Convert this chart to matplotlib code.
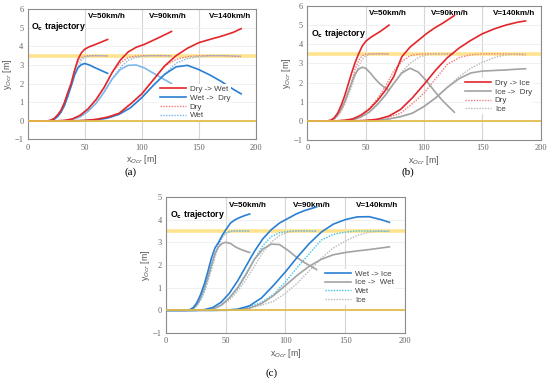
import matplotlib
matplotlib.use("Agg")
import matplotlib.pyplot as plt

# shared x grids for each speed (m)
x50 = [0, 17, 20, 23, 26, 29, 32, 35, 38, 41, 44, 47, 50, 54, 58, 62, 66, 70]
x90 = [0, 25, 32, 39, 46, 53, 60, 67, 74, 81, 88, 95, 102, 109, 116, 126]
x140 = [0, 40, 50, 60, 70, 80, 90, 100, 110, 120, 130, 140, 150, 160, 170, 180, 187]

# ---- reference (single-surface) trajectories
dry50 = [0, 0, 0.03, 0.12, 0.3, 0.55, 0.95, 1.5, 2.0, 2.7, 3.15, 3.4, 3.48, 3.5, 3.5, 3.5, 3.49, 3.48]
wet50 = [0, 0, 0, 0.07, 0.22, 0.45, 0.8, 1.3, 1.85, 2.45, 2.9, 3.25, 3.42, 3.48, 3.5, 3.5, 3.5, 3.49]
ice50 = [0, 0, 0, 0.08, 0.25, 0.5, 0.85, 1.3, 1.8, 2.35, 2.85, 3.2, 3.4, 3.48, 3.5, 3.5, 3.5, 3.5]
dry90 = [0, 0, 0.02, 0.1, 0.3, 0.65, 1.15, 1.8, 2.6, 3.1, 3.4, 3.48, 3.5, 3.5, 3.5, 3.49]
wet90 = [0, 0, 0.01, 0.07, 0.22, 0.52, 0.95, 1.55, 2.25, 2.85, 3.25, 3.42, 3.48, 3.5, 3.5, 3.49]
ice90 = [0, 0, 0.01, 0.05, 0.2, 0.45, 0.85, 1.35, 1.95, 2.55, 3.0, 3.3, 3.45, 3.5, 3.5, 3.5]
dry140 = [0, 0, 0.02, 0.08, 0.2, 0.4, 0.9, 1.45, 2.2, 2.95, 3.3, 3.45, 3.5, 3.5, 3.5, 3.47, 3.45]
wet140 = [0, 0, 0.01, 0.05, 0.15, 0.35, 0.7, 1.25, 1.9, 2.5, 3.1, 3.35, 3.45, 3.5, 3.5, 3.49, 3.48]
ice140 = [0, 0, 0, 0.03, 0.1, 0.22, 0.4, 0.75, 1.2, 1.75, 2.3, 2.75, 3.05, 3.3, 3.45, 3.5, 3.5]

# ---- panel (a): dry -> wet / wet -> dry
a_dw50 = [0, 0, 0.03, 0.12, 0.3, 0.55, 0.95, 1.5, 2.0, 2.7, 3.3, 3.65, 3.85, 3.98, 4.07, 4.17, 4.27, 4.37]
a_wd50 = [0, 0, 0, 0.07, 0.22, 0.45, 0.8, 1.3, 1.85, 2.45, 2.85, 3.02, 3.08, 3.0, 2.88, 2.77, 2.66, 2.55]
a_dw90 = [0, 0, 0.02, 0.1, 0.3, 0.65, 1.15, 1.8, 2.6, 3.25, 3.7, 3.95, 4.1, 4.3, 4.5, 4.8]
a_wd90 = [0, 0, 0.01, 0.07, 0.22, 0.52, 0.95, 1.55, 2.25, 2.75, 2.98, 3.0, 2.85, 2.6, 2.35, 2.0]
a_dw140 = [0, 0, 0.02, 0.08, 0.2, 0.4, 0.9, 1.45, 2.2, 2.95, 3.5, 3.9, 4.2, 4.38, 4.55, 4.75, 4.95]
a_wd140 = [0, 0, 0.01, 0.05, 0.15, 0.35, 0.7, 1.25, 1.9, 2.5, 2.9, 2.98, 2.75, 2.45, 2.1, 1.7, 1.45]

# ---- panel (b): dry -> ice / ice -> dry
b_di50 = [0, 0, 0.03, 0.15, 0.4, 0.8, 1.3, 1.9, 2.5, 3.05, 3.5, 3.9, 4.15, 4.35, 4.5, 4.65, 4.82, 5.0]
b_id50 = [0, 0, 0, 0.1, 0.3, 0.6, 1.0, 1.5, 2.0, 2.45, 2.7, 2.8, 2.75, 2.5, 2.2, 1.95, 1.75, 1.6]
b_di90 = [0, 0, 0.03, 0.1, 0.3, 0.6, 1.05, 1.6, 2.3, 3.35, 3.85, 4.2, 4.55, 4.85, 5.1, 5.5]
b_id90 = [0, 0, 0.01, 0.05, 0.2, 0.45, 0.85, 1.35, 1.95, 2.5, 2.75, 2.55, 2.1, 1.55, 1.05, 0.45]
b_di140 = [0, 0, 0.02, 0.08, 0.25, 0.6, 1.2, 1.9, 2.65, 3.3, 3.8, 4.2, 4.55, 4.8, 5.0, 5.15, 5.22]
b_id140 = [0, 0, 0, 0.03, 0.1, 0.22, 0.4, 0.75, 1.2, 1.75, 2.2, 2.5, 2.6, 2.63, 2.66, 2.7, 2.72]

# ---- panel (c): wet -> ice / ice -> wet
c_wi50 = [0, 0, 0.03, 0.13, 0.35, 0.7, 1.15, 1.7, 2.3, 2.75, 3.0, 3.3, 3.55, 3.85, 4.0, 4.1, 4.18, 4.25]
c_iw50 = [0, 0, 0, 0.08, 0.25, 0.55, 0.95, 1.45, 2.0, 2.5, 2.8, 2.95, 3.0, 2.95, 2.8, 2.7, 2.62, 2.55]
c_wi90 = [0, 0, 0.03, 0.12, 0.35, 0.75, 1.3, 1.95, 2.6, 3.15, 3.55, 3.85, 4.05, 4.25, 4.4, 4.56]
c_iw90 = [0, 0, 0.01, 0.05, 0.22, 0.55, 1.0, 1.6, 2.25, 2.7, 2.92, 2.9, 2.65, 2.35, 2.1, 1.8]
c_wi140 = [0, 0, 0.01, 0.05, 0.2, 0.55, 1.1, 1.7, 2.35, 2.95, 3.45, 3.8, 4.0, 4.12, 4.13, 4.0, 3.88]
c_iw140 = [0, 0, 0, 0.02, 0.1, 0.3, 0.65, 1.1, 1.55, 1.95, 2.25, 2.45, 2.55, 2.62, 2.68, 2.75, 2.8]

speeds = ["V=50km/h", "V=90km/h", "V=140km/h"]
speed_x = [53, 106, 159]

RED = "#e3262b"
BLUE = "#2a7fd4"
LBLUE = "#7db8ea"
GREY = "#a3a3a3"
RED_DOT = "#f07a7a"
CYAN_DOT = "#3cc3ea"
GREY_DOT = "#b8b8b8"
SERIF = "Liberation Serif"
SANS = "Liberation Sans"

fig = plt.figure(figsize=(5.5, 3.8), dpi=100)


def setup_axes(rect, ymin, ymax, oc_y):
    ax = fig.add_axes(rect)
    ax.set_xlim(0, 200)
    ax.set_ylim(ymin, ymax)
    ax.set_xticks([0, 50, 100, 150, 200])
    ax.set_yticks(range(ymin, ymax + 1))
    for v in [0, 50, 100, 150, 200]:
        ax.axvline(v, color="#d6d6d6", lw=0.8, zorder=0)
    for v in range(ymin + 1, ymax + 1):
        ax.axhline(v, color="#eeeeee", lw=0.6, zorder=0)
    ax.axhline(3.5, color="#ffe48f", lw=2.6, zorder=1)
    ax.axhline(0, color="#e2bd4c", lw=1.3, zorder=6)
    for s in ax.spines.values():
        s.set_color("#8c8c8c")
        s.set_linewidth(0.8)
    ax.tick_params(length=0, labelsize=6, colors="#666666", pad=3)
    for lab in ax.get_xticklabels() + ax.get_yticklabels():
        lab.set_family(SERIF)
    ax.set_xlabel("x$_{Ocr}$ [m]", fontsize=6.3, color="#555555", labelpad=1, family=SANS)
    ax.set_ylabel("y$_{Ocr}$ [m]", fontsize=6.3, color="#555555", labelpad=0.5, family=SANS)
    for name, xs in zip(speeds, speed_x):
        ax.text(xs, ymax - 0.38, name, fontsize=5.8, fontweight="bold", va="center", family=SANS)
    ax.text(3, oc_y, "O$_\\mathbf{c}$ trajectory", fontsize=6.3, fontweight="bold",
            va="center", family=SANS)
    return ax


def draw_panel(ax, tr1, tr2, ref1, ref2, c1, c2, c2_90, cref1, cref2, labels, anchor):
    grids = [x50, x90, x140]
    handles = []
    for i, xs in enumerate(grids):
        d1, = ax.plot(xs, ref1[i], color=cref1, lw=1.0, ls=(0, (1, 1)), zorder=2)
        d2, = ax.plot(xs, ref2[i], color=cref2, lw=1.0, ls=(0, (1, 1)), zorder=2)
        col2 = c2_90 if i == 1 else c2
        l2, = ax.plot(xs, tr2[i], color=col2, lw=1.2, zorder=3)
        l1, = ax.plot(xs, tr1[i], color=c1, lw=1.2, zorder=4)
        if i == 0:
            handles = [l1, l2, d1, d2]
    leg = ax.legend(handles, labels, loc="center right", bbox_to_anchor=anchor,
                    prop={"family": SANS, "size": 5.8}, frameon=True,
                    framealpha=1, edgecolor="none", fancybox=False,
                    handlelength=3.2, labelspacing=0.15, borderpad=0.15,
                    handletextpad=0.5)
    leg.set_zorder(5)
    for t in leg.get_texts():
        t.set_color("#404040")


ax_a = setup_axes([0.0504, 0.633, 0.415, 0.343], -1, 6, 5.08)
draw_panel(ax_a, [a_dw50, a_dw90, a_dw140], [a_wd50, a_wd90, a_wd140],
           [dry50, dry90, dry140], [wet50, wet90, wet140],
           RED, BLUE, LBLUE, RED_DOT, LBLUE,
           ["Dry -> Wet", "Wet ->  Dry", "Dry", "Wet"], (0.91, 0.285))

ax_b = setup_axes([0.5587, 0.6316, 0.4244, 0.3526], -1, 6, 4.55)
draw_panel(ax_b, [b_di50, b_di90, b_di140], [b_id50, b_id90, b_id140],
           [dry50, dry90, dry140], [ice50, ice90, ice140],
           RED, GREY, GREY, RED_DOT, GREY_DOT,
           ["Dry -> Ice", "Ice ->  Dry", "Dry", "Ice"], (0.985, 0.327))

ax_c = setup_axes([0.3018, 0.1237, 0.4345, 0.358], -1, 5, 4.22)
draw_panel(ax_c, [c_wi50, c_wi90, c_wi140], [c_iw50, c_iw90, c_iw140],
           [wet50, wet90, wet140], [ice50, ice90, ice140],
           BLUE, GREY, GREY, CYAN_DOT, GREY_DOT,
           ["Wet -> Ice", "Ice ->  Wet", "Wet", "Ice"], (0.975, 0.338))

fig.text(131 / 550, 1 - 172 / 380, "(a)", fontsize=8, family=SERIF, ha="center", va="center")
fig.text(408 / 550, 1 - 172 / 380, "(b)", fontsize=8, family=SERIF, ha="center", va="center")
fig.text(272 / 550, 1 - 373 / 380, "(c)", fontsize=8, family=SERIF, ha="center", va="center")

fig.savefig("out.png", dpi=100)
